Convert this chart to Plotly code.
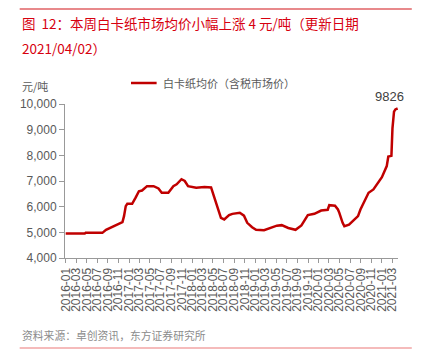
import plotly.graph_objects as go

dates = [
    "2016-01-01", "2016-04-20", "2016-04-25", "2016-07-31", "2016-08-21", "2016-09-19",
    "2016-10-17", "2016-11-24", "2016-12-03", "2016-12-13", "2016-12-22",
    "2017-01-19", "2017-02-08", "2017-02-27", "2017-03-17", "2017-04-15", "2017-05-23",
    "2017-06-20", "2017-07-09", "2017-08-16", "2017-09-14", "2017-10-03", "2017-10-31",
    "2017-11-19", "2017-12-08",
    "2018-01-24", "2018-03-13", "2018-04-20", "2018-05-09", "2018-05-28", "2018-06-16",
    "2018-07-05", "2018-08-02", "2018-08-21", "2018-10-03", "2018-10-27", "2018-11-15",
    "2018-12-13",
    "2019-01-05", "2019-02-20", "2019-03-27", "2019-05-05", "2019-06-02", "2019-07-10",
    "2019-08-21", "2019-09-24", "2019-10-31", "2019-12-08",
    "2020-01-16", "2020-02-23", "2020-03-03", "2020-04-05", "2020-04-22", "2020-04-30",
    "2020-05-19", "2020-05-29", "2020-06-25", "2020-07-23", "2020-08-16", "2020-08-30",
    "2020-09-18", "2020-10-16", "2020-11-13", "2020-12-12",
    "2021-01-01", "2021-01-29", "2021-02-07", "2021-02-25", "2021-03-03", "2021-03-12",
    "2021-03-20", "2021-04-02",
]
prices = [
    4950, 4950, 4980, 4980, 5100, 5200,
    5300, 5400, 5630, 6020, 6110,
    6110, 6350, 6600, 6630, 6800, 6800,
    6710, 6540, 6540, 6800, 6870, 7070,
    7000, 6800,
    6740, 6770, 6750, 6350, 5960, 5560,
    5500, 5670, 5720, 5760, 5650, 5370,
    5200,
    5100, 5080, 5170, 5260, 5280, 5170,
    5100, 5270, 5670, 5720,
    5850, 5880, 6060, 6040, 5890, 5760,
    5370, 5240, 5300, 5500, 5630, 5890,
    6150, 6540, 6670, 6940,
    7150, 7580, 7950, 7980, 9050, 9700,
    9790, 9826,
]

series_name = "白卡纸均价（含税市场价）"
title_line1 = "图  12：本周白卡纸市场均价小幅上涨 4 元/吨（更新日期"
title_line2 = "2021/04/02）"
unit_label = "元/吨"
source_text = "资料来源：卓创资讯，东方证券研究所"
y_ticks = [4000, 5000, 6000, 7000, 8000, 9000, 10000]

FONT = "Liberation Sans, Arial, Noto Sans CJK SC, sans-serif"
CJK = "Noto Sans CJK SC, Liberation Sans, sans-serif"
GRAY = "#595959"
RED = "#c00000"

# page body has an 8px default margin: figure is sized/offset to compensate
OFF = 8
W, H = 423 - OFF, 363 - OFF
L, R, T, B = 52, 25, 96, 105
PW, PH = W - L - R, H - T - B


def sx(px):
    """screen x pixel -> paper x"""
    return (px - OFF - L) / PW


def sy(py):
    """screen y pixel -> paper y"""
    return 1 - (py - OFF - T) / PH


fig = go.Figure()
fig.add_trace(go.Scatter(
    x=dates, y=prices, mode="lines", name=series_name,
    line=dict(color=RED, width=2.5),
    showlegend=False,
))

fig.update_layout(
    width=W, height=H,
    margin=dict(l=L, r=R, t=T, b=B, pad=0),
    paper_bgcolor="white", plot_bgcolor="white",
    font=dict(family=FONT, color=GRAY, size=12),
    showlegend=False,
    xaxis=dict(
        type="date",
        range=["2015-12-28", "2021-04-04"],
        tick0="2016-01-01", dtick="M2", tickformat="%Y-%m",
        tickangle=-90,
        tickfont=dict(family=FONT, size=12, color=GRAY),
        showgrid=False, zeroline=False,
        showline=True, linecolor="#999999", linewidth=1,
        ticks="outside", ticklen=4, tickcolor="#999999",
    ),
    yaxis=dict(
        range=[4000, 10000],
        tickvals=y_ticks, tickformat=",d",
        tickfont=dict(family=FONT, size=12, color=GRAY),
        showgrid=False, zeroline=False,
        showline=True, linecolor="#999999", linewidth=1,
        ticks="outside", ticklen=5, tickcolor="#999999",
    ),
)


def text_at(text, x, y, size, color, family=CJK, xanchor="left"):
    fig.add_annotation(
        text=text, xref="paper", yref="paper", x=sx(x), y=sy(y),
        xanchor=xanchor, yanchor="middle", showarrow=False,
        font=dict(family=family, size=size, color=color),
    )


# title lines
text_at(title_line1, 14, 23, 13.5, "#d7000f")
text_at(title_line2, 14, 48, 13.5, "#d7000f")
# unit
text_at(unit_label, 14, 86, 11, GRAY)
# legend (drawn manually)
fig.add_shape(type="line", xref="paper", yref="paper",
              x0=sx(127), x1=sx(153), y0=sy(83), y1=sy(83),
              line=dict(color=RED, width=2.5))
text_at(series_name, 157, 83, 11, GRAY)
# source
text_at(source_text, 14, 335, 10.8, "#8c8c8c")

# last value label
fig.add_annotation(
    text=str(prices[-1]), x=dates[-1], y=prices[-1],
    xref="x", yref="y", showarrow=False,
    xanchor="center", yanchor="bottom", xshift=-8, yshift=2,
    font=dict(family=FONT, size=13, color="#404040"),
)

# decorative separator lines
fig.add_shape(type="line", xref="paper", yref="paper",
              x0=sx(14), x1=sx(412), y0=sy(9), y1=sy(9),
              line=dict(color="#e8898b", width=2))
fig.add_shape(type="line", xref="paper", yref="paper",
              x0=sx(14), x1=sx(412), y0=sy(348), y1=sy(348),
              line=dict(color="#f2a5a5", width=1.5))

fig.write_html("out.html")
